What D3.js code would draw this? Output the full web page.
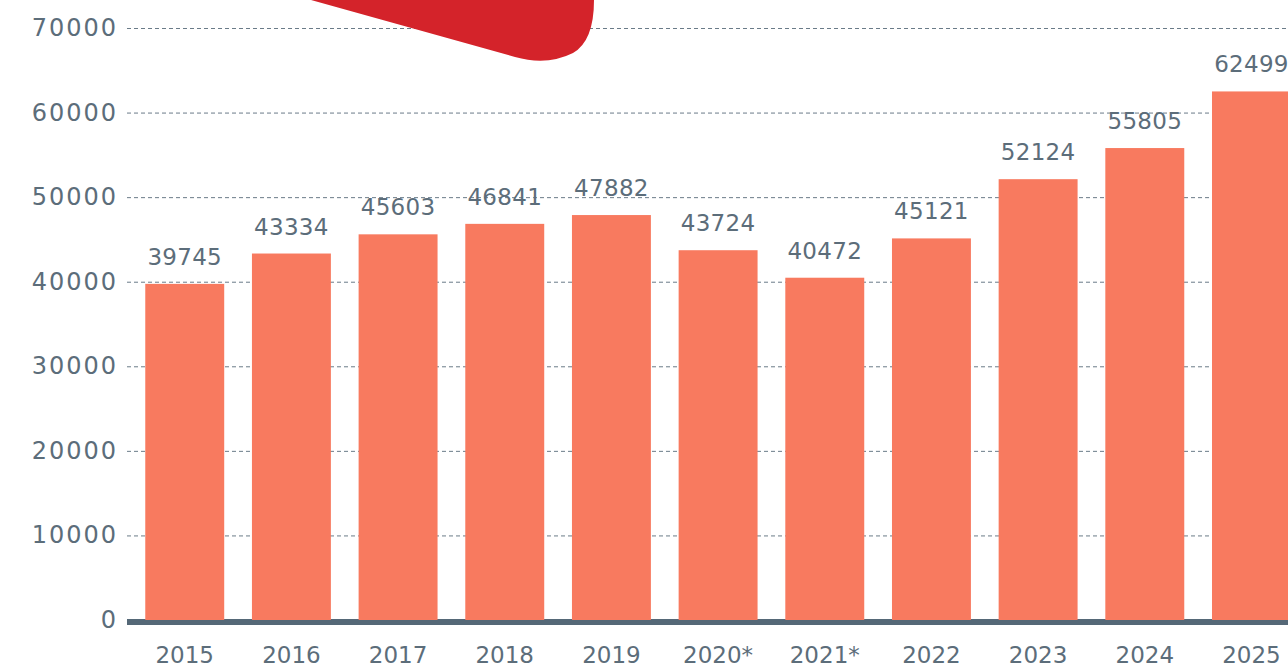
<!DOCTYPE html>
<html lang="en">
<head>
    <meta charset="UTF-8">
    <script src="https://d3js.org/d3.v7.min.js"></script>
    <title>Bar chart</title>
    <style>
        html, body { margin: 0; padding: 0; background: #fff; overflow: hidden; }
        text { font-family: "DejaVu Sans", sans-serif; fill: #5c6d7a; }
    </style>
</head>
<body>
<div id="chart"></div>
<script>
// data
const years = ["2015", "2016", "2017", "2018", "2019", "2020*", "2021*", "2022", "2023", "2024", "2025"];
const values = [39745, 43334, 45603, 46841, 47882, 43724, 40472, 45121, 52124, 55805, 62499];
const yTicks = [0, 10000, 20000, 30000, 40000, 50000, 60000, 70000];

const width = 1288, height = 668;

const svg = d3.select("#chart").append("svg")
    .attr("width", width)
    .attr("height", height);

const x = d3.scaleBand()
    .domain(years)
    .range([131.4, 1304.8])
    .paddingInner(0.26)
    .paddingOuter(0.13);

const y = d3.scaleLinear()
    .domain([0, 70000])
    .range([620, 28]);

// dashed grid lines
svg.append("g")
    .selectAll("line")
    .data(yTicks.filter(d => d > 0))
    .join("line")
    .attr("x1", 127)
    .attr("x2", width)
    .attr("y1", d => y(d) + 0.5)
    .attr("y2", d => y(d) + 0.5)
    .attr("stroke", "#6a7b88")
    .attr("stroke-width", 1)
    .attr("stroke-dasharray", "4,3");

// y labels
svg.append("g")
    .selectAll("text")
    .data(yTicks)
    .join("text")
    .attr("x", 118)
    .attr("y", d => y(d) + 8)
    .attr("text-anchor", "end")
    .style("font-size", "24px")
    .style("letter-spacing", "2px")
    .text(d => d);

// baseline
svg.append("rect")
    .attr("x", 127)
    .attr("y", y(0) - 1)
    .attr("width", width - 127)
    .attr("height", 6)
    .attr("fill", "#556877");

// bars
svg.append("g")
    .selectAll("rect")
    .data(values)
    .join("rect")
    .attr("x", (d, i) => x(years[i]))
    .attr("y", d => y(d))
    .attr("width", x.bandwidth())
    .attr("height", d => y(0) - y(d))
    .attr("fill", "#f87a5f");

// value labels
svg.append("g")
    .selectAll("text")
    .data(values)
    .join("text")
    .attr("x", (d, i) => x(years[i]) + x.bandwidth() / 2)
    .attr("y", d => y(d) - 19)
    .attr("text-anchor", "middle")
    .style("font-size", "23px")
    .style("letter-spacing", "0.3px")
    .text(d => d);

// x labels
svg.append("g")
    .selectAll("text")
    .data(years)
    .join("text")
    .attr("x", d => x(d) + x.bandwidth() / 2)
    .attr("y", 663)
    .attr("text-anchor", "middle")
    .style("font-size", "23px")
    .text(d => d);

// red decoration at the top
svg.append("path")
    .attr("d", "M311,0 L515,57 Q547,66 573,53 Q594,41 594,0 Z")
    .attr("fill", "#d4232a");
</script>
</body>
</html>
